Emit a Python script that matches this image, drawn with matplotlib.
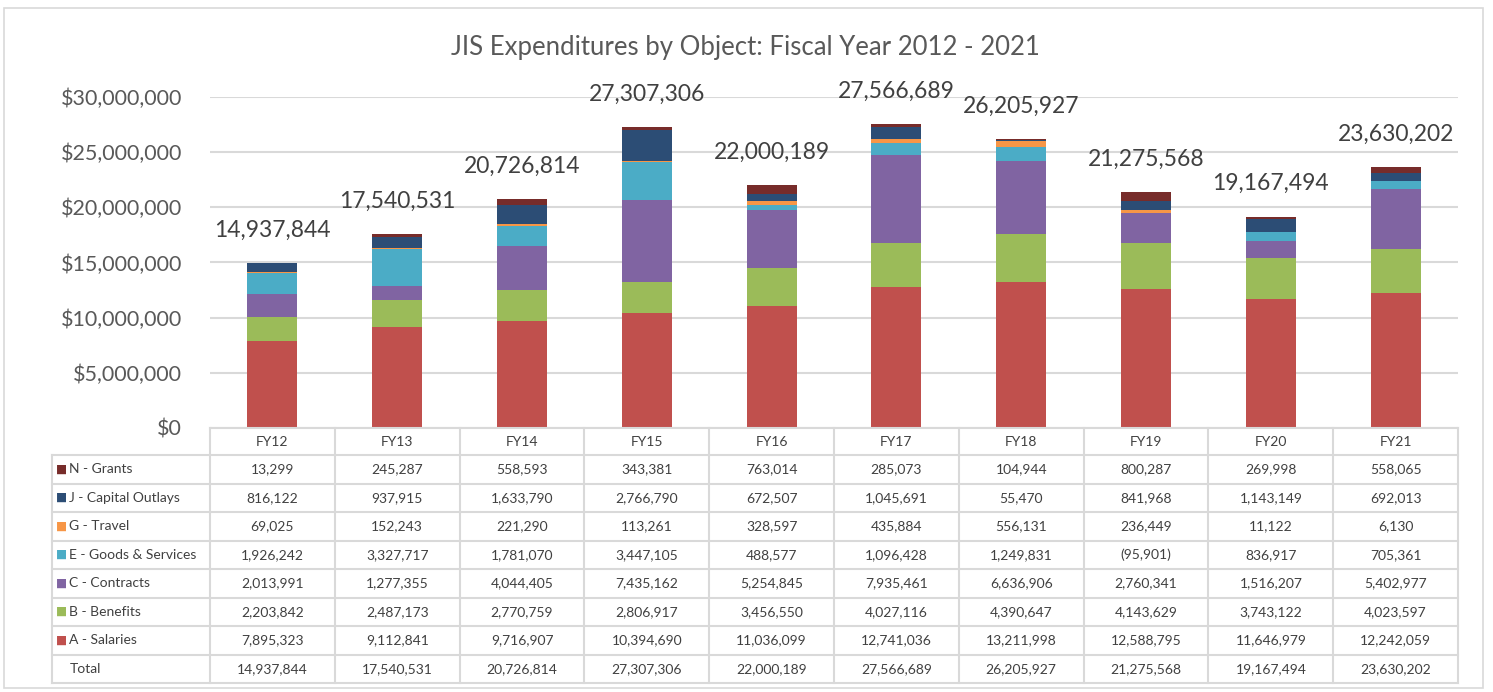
import numpy as np
import matplotlib.pyplot as plt
from matplotlib.patches import Rectangle

plt.rcParams['font.family'] = ['Lato', 'DejaVu Sans']

years = ['FY12', 'FY13', 'FY14', 'FY15', 'FY16', 'FY17', 'FY18', 'FY19', 'FY20', 'FY21']
salaries = [7895323, 9112841, 9716907, 10394690, 11036099, 12741036, 13211998, 12588795, 11646979, 12242059]
benefits = [2203842, 2487173, 2770759, 2806917, 3456550, 4027116, 4390647, 4143629, 3743122, 4023597]
contracts = [2013991, 1277355, 4044405, 7435162, 5254845, 7935461, 6636906, 2760341, 1516207, 5402977]
goods = [1926242, 3327717, 1781070, 3447105, 488577, 1096428, 1249831, -95901, 836917, 705361]
travel = [69025, 152243, 221290, 113261, 328597, 435884, 556131, 236449, 11122, 6130]
capital = [816122, 937915, 1633790, 2766790, 672507, 1045691, 55470, 841968, 1143149, 692013]
grants = [13299, 245287, 558593, 343381, 763014, 285073, 104944, 800287, 269998, 558065]
totals = [14937844, 17540531, 20726814, 27307306, 22000189, 27566689, 26205927, 21275568, 19167494, 23630202]

series = [
    ('A - Salaries', salaries, '#C0504D'),
    ('B - Benefits', benefits, '#9BBB59'),
    ('C - Contracts', contracts, '#8064A2'),
    ('E - Goods & Services', goods, '#4BACC6'),
    ('G - Travel', travel, '#F79646'),
    ('J - Capital Outlays', capital, '#2C4D75'),
    ('N - Grants', grants, '#772C2A'),
]

W, H = 1493, 692
fig = plt.figure(figsize=(W / 100, H / 100), dpi=100)
grid_c = '#D9D9D9'
txt_c = '#595959'

# outer frame
fig.patches.append(Rectangle((4 / W, 1 - 688 / H), 1479 / W, 680 / H, transform=fig.transFigure,
                             fill=False, edgecolor=grid_c, lw=1.2))

ax = fig.add_axes([210 / W, 1 - 428 / H, 1248 / W, 331 / H])
x = np.arange(len(years))
pos_base = np.zeros(len(years))
neg_base = np.zeros(len(years))
for name, vals, col in series:
    v = np.array(vals, dtype=float)
    b = np.where(v >= 0, pos_base, neg_base)
    ax.bar(x, v, 0.4, bottom=b, color=col, label=name, zorder=3)
    pos_base += np.where(v >= 0, v, 0)
    neg_base += np.where(v < 0, v, 0)

for i, t in enumerate(totals):
    ax.annotate(f'{t:,}', (x[i], pos_base[i]), xytext=(0, 16), textcoords='offset points',
                ha='center', va='bottom', fontsize=16.5, color='#404040')

ax.set_xlim(-0.5, len(years) - 0.5)
ax.set_ylim(0, 30000000)
ax.set_yticks(np.arange(0, 30000001, 5000000))
ax.set_yticklabels([f'${v:,.0f}' for v in ax.get_yticks()], fontsize=15.5, color=txt_c)
ax.set_xticks([])
ax.tick_params(axis='y', length=0, pad=20)
ax.grid(axis='y', color=grid_c, lw=1.5, zorder=0)
for s in ax.spines.values():
    s.set_visible(False)

fig.text(745 / W, 1 - 47 / H, 'JIS Expenditures by Object: Fiscal Year 2012 - 2021',
         ha='center', va='center', fontsize=18.5, color=txt_c)

# data table below the bars
tab = fig.add_axes([52 / W, 1 - 683 / H, 1406 / W, 255 / H])
lab_w = 158 / 124.8
x0 = -0.5 - lab_w
x1 = len(years) - 0.5
tab.set_xlim(x0, x1)
tab.set_ylim(255, 0)
tab.axis('off')
hdr = 27
rh = 28.5
lw = 1.5
# header row
tab.plot([-0.5, x1], [0, 0], color=grid_c, lw=lw, clip_on=False)
for i, yr in enumerate(years):
    tab.text(i, hdr / 2 + 1, yr, ha='center', va='center', fontsize=10, color='#404040')
rows = [(name, vals, col) for name, vals, col in series[::-1]] + [('Total', totals, None)]
for k in range(len(years) + 1):
    xx = k - 0.5
    tab.plot([xx, xx], [0, 255], color=grid_c, lw=lw, clip_on=False)
tab.plot([x0, x0], [hdr, 255], color=grid_c, lw=lw, clip_on=False)
for r in range(len(rows) + 1):
    yy = hdr + r * rh
    tab.plot([x0, x1], [yy, yy], color=grid_c, lw=lw, clip_on=False)
for r, (name, vals, col) in enumerate(rows):
    yc = hdr + r * rh + rh / 2
    if col is not None:
        tab.text(x0 + 0.035, yc, '■', ha='left', va='center', fontsize=8.5, color=col,
                 family='DejaVu Sans')
    tab.text(x0 + 0.14, yc, name, ha='left', va='center', fontsize=10, color='#404040')
    for i, v in enumerate(vals):
        s = f'{v:,}' if v >= 0 else f'({-v:,})'
        tab.text(i, yc, s, ha='center', va='center', fontsize=10, color='#404040')

fig.savefig('out.png', dpi=100)
